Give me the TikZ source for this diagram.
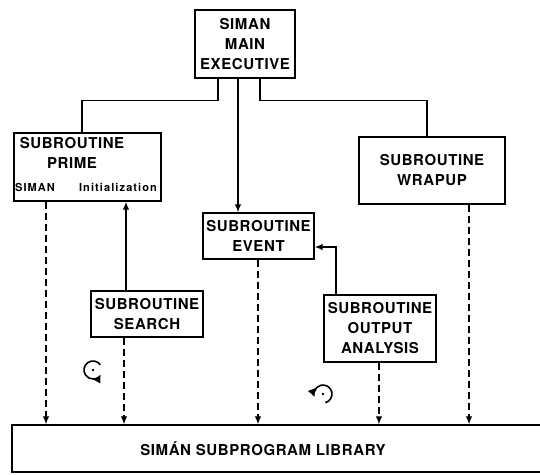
\documentclass[tikz,border=0pt]{standalone}
\usepackage{fontspec}
\newfontfamily\boxfont{TeX Gyre Heros}[LetterSpace=4]
\newfontfamily\smallfont{TeX Gyre Heros}[LetterSpace=10]
\usetikzlibrary{arrows.meta}
\tikzset{box/.style = {shape = rectangle, draw, line width = 1.4pt, inner sep = 0pt, align = center, font = \boxfont\bfseries\fontsize{15}{20}\selectfont}}
\tikzset{boxtext/.style = {inner sep = 0pt, align = center, font = \boxfont\bfseries\fontsize{15}{20}\selectfont}}
\tikzset{smalltext/.style = {inner sep = 0pt, font = \smallfont\bfseries\fontsize{11}{12}\selectfont}}
\tikzset{edge/.style = {->,> = {Latex[length = 8pt, width = 6.5pt]}, line width = 1.3pt}}
\tikzset{dashededge/.style = {edge, dash pattern = on 7pt off 4pt}}
\tikzset{plainedge/.style = {line width = 1.3pt}}
\tikzset{turnedge/.style = {->,> = {Latex[length = 8pt, width = 9pt]}, line width = 1.6pt}}

\begin{document}
\begin{tikzpicture}[x = 1pt, y = -1pt]
			\clip (0, 0) rectangle (540, 474);

			\node[box, minimum width = 100pt, minimum height = 68pt] (main) at (245, 44) {SIMAN\\MAIN\\EXECUTIVE};
			\node[box, minimum width = 147pt, minimum height = 68pt] (prime) at (87.5, 167) {};
			\node[boxtext] (primetitle) at (72, 153) {SUBROUTINE\\PRIME};
			\node[smalltext] (primesiman) at (35, 187) {SIMAN};
			\node[smalltext] (primeinit) at (118, 187) {Initialization};
			\node[box, minimum width = 146pt, minimum height = 67pt] (wrapup) at (432, 170.5) {SUBROUTINE\\WRAPUP};
			\node[box, minimum width = 111pt, minimum height = 46pt] (event) at (258.5, 236) {SUBROUTINE\\EVENT};
			\node[box, minimum width = 112pt, minimum height = 46pt] (search) at (147, 314) {SUBROUTINE\\SEARCH};
			\node[box, minimum width = 112pt, minimum height = 67pt] (output) at (380, 328.5) {SUBROUTINE\\OUTPUT\\ANALYSIS};
			\node[box, minimum width = 530pt, minimum height = 47pt] (lib) at (277, 448.5) {};
			\node[boxtext] (libtext) at (263, 449) {SIMÁN SUBPROGRAM LIBRARY};

			\coordinate (turnleft) at (93, 370);
			\coordinate (turnright) at (323, 394);

			% calls from the executive
			\draw[plainedge] ([xshift = -27pt]main.south) -- ++(0, 22) -| ([xshift = -5.5pt]prime.north);
			\draw[plainedge] ([xshift = 15pt]main.south) -- ++(0, 22) -| ([xshift = -5pt]wrapup.north);
			\draw[edge] ([xshift = -7pt]main.south) to ([xshift = -7pt]main.south |- event.north);
			\draw[edge] ([xshift = -21pt]search.north) to ([xshift = -21pt]search.north |- prime.south);
			\draw[edge] ([xshift = -44pt]output.north) |- ([yshift = -11pt]event.east);

			% library calls
			\draw[dashededge] ([xshift = -41.5pt]prime.south) to ([xshift = -41.5pt]prime.south |- lib.north);
			\draw[dashededge] ([xshift = -23pt]search.south) to ([xshift = -23pt]search.south |- lib.north);
			\draw[dashededge] ([xshift = -0.5pt]event.south) to ([xshift = -0.5pt]event.south |- lib.north);
			\draw[dashededge] ([xshift = -1pt]output.south) to ([xshift = -1pt]output.south |- lib.north);
			\draw[dashededge] ([xshift = 37pt]wrapup.south) to ([xshift = 37pt]wrapup.south |- lib.north);

			\draw[turnedge] ([shift = {(35:9pt)}]turnleft) arc[start angle = 35, end angle = 330, radius = 9pt];
			\fill (turnleft) circle (1.3pt);
			\draw[turnedge] ([shift = {(-75:9pt)}]turnright) arc[start angle = -75, end angle = 200, radius = 9pt];
			\fill (turnright) circle (1.3pt);
		\end{tikzpicture}
\end{document}
